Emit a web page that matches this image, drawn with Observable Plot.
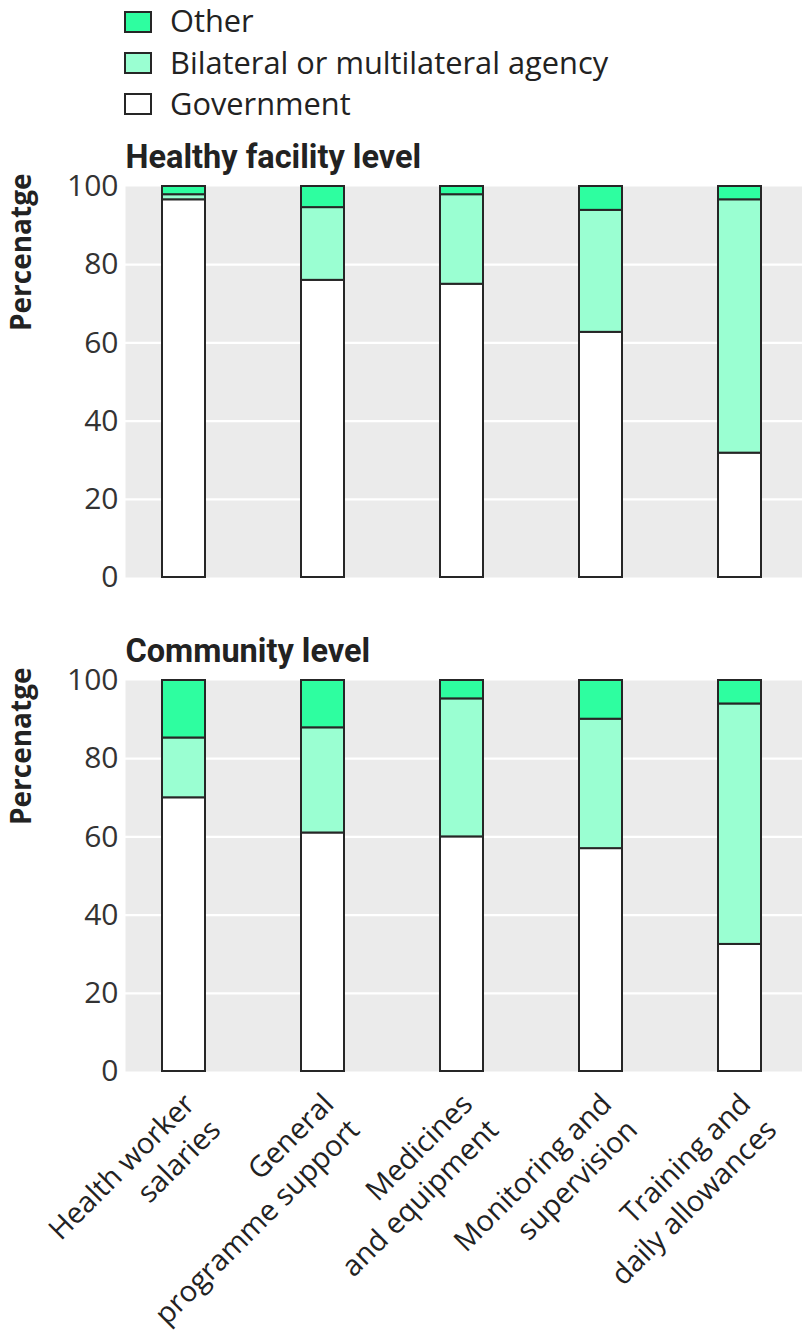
<!DOCTYPE html>
<html><head><meta charset="utf-8">
<script src="https://cdn.jsdelivr.net/npm/d3@7"></script>
<script src="https://cdn.jsdelivr.net/npm/@observablehq/plot@0.6"></script>
<style>
body{margin:0;background:#fff;}
#root{position:relative;width:802px;height:1334px;overflow:hidden;}
#root > *{position:absolute;left:0;}
</style></head><body><div id="root"></div>
<script>
const categories = ["Health worker salaries","General programme support","Medicines and equipment","Monitoring and supervision","Training and daily allowances"];
const categoryLabels = ["Health worker\nsalaries","General\nprogramme support","Medicines\nand equipment","Monitoring and\nsupervision","Training and\ndaily allowances"];
const sources = ["Government","Bilateral or multilateral agency","Other"];
const sourceColors = ["#ffffff","#9affd2","#2efea0"];
const yTicks = [0,20,40,60,80,100];
const gridTicks = [20,40,60,80];
const panelTitles = ["Healthy facility level","Community level"];
const yLabel = "Percenatge";

const facilityGovernment = [96.6, 76.0, 75.0, 62.7, 31.8];
const facilityBilateral  = [1.3, 18.6, 22.9, 31.2, 64.8];
const facilityOther      = [2.1, 5.4, 2.1, 6.1, 3.4];

const communityGovernment = [70.0, 61.0, 60.0, 57.0, 32.5];
const communityBilateral  = [15.3, 26.9, 35.3, 33.1, 61.5];
const communityOther      = [14.7, 12.1, 4.7, 9.9, 6.0];

function rows(gov, bil, oth) {
  return categories.flatMap((c, i) => [
    {category: c, source: sources[0], value: gov[i]},
    {category: c, source: sources[1], value: bil[i]},
    {category: c, source: sources[2], value: oth[i]}
  ]);
}

const root = document.getElementById("root");

// Legend
const legend = d3.create("svg").attr("width", 802).attr("height", 124).style("top", "0px");
const legendOrder = [2, 1, 0];
const rectY = [12, 53, 94];
const textY = [32, 74, 115];
legendOrder.forEach((k, j) => {
  legend.append("rect").attr("x", 125).attr("y", rectY[j]).attr("width", 26).attr("height", 20)
    .attr("fill", sourceColors[k]).attr("stroke", "#262626").attr("stroke-width", 2);
  legend.append("text").attr("x", 170).attr("y", textY[j]).text(sources[k])
    .attr("font-family", "'Open Sans', sans-serif").attr("font-size", 30.8).attr("fill", "#222");
});
root.appendChild(legend.node());

function panel(title, data, showX, height, marginTop, marginBottom) {
  return Plot.plot({
    width: 802, height, marginLeft: 125, marginRight: 0, marginTop, marginBottom,
    style: {fontFamily: "'Open Sans', sans-serif", background: "transparent", overflow: "visible"},
    x: {domain: categories, paddingInner: 0.69, paddingOuter: 0.277, align: 0.47, axis: null},
    y: {domain: [0, 100], axis: null},
    color: {domain: sources, range: sourceColors},
    marks: [
      Plot.frame({fill: "#ebebeb", stroke: null}),
      Plot.gridY(gridTicks, {stroke: "#fff", strokeOpacity: 1, strokeWidth: 2.2}),
      Plot.axisY(yTicks, {tickSize: 0, tickPadding: 7, fontSize: 30, fill: "#333", label: null}),
      Plot.barY(data, {x: "category", y: "value", fill: "source", stroke: "#262626", strokeWidth: 2, order: sources}),
      Plot.text([title], {text: d => d, frameAnchor: "top-left", textAnchor: "start", lineAnchor: "bottom", dy: -19, fontSize: 32.5, fontWeight: 700, fontFamily: "Roboto, sans-serif", fill: "#222"}),
      Plot.text([yLabel], {text: d => d, frameAnchor: "top-left", rotate: -90, textAnchor: "end", lineAnchor: "bottom", dx: -95, dy: -13, fontSize: 28, fontWeight: 700, fill: "#222"}),
      showX ? Plot.text(categories, {x: d => d, text: (d, i) => categoryLabels[i], frameAnchor: "bottom", rotate: -45, textAnchor: "end", lineAnchor: "top", lineHeight: 1.26, dx: -6, dy: 16, fontSize: 29, fill: "#222"}) : null
    ]
  });
}

const p1 = panel(panelTitles[0], rows(facilityGovernment, facilityBilateral, facilityOther), false, 467, 66, 10);
p1.style.top = "120px";
root.appendChild(p1);
const p2 = panel(panelTitles[1], rows(communityGovernment, communityBilateral, communityOther), true, 734, 80, 263);
p2.style.top = "600px";
root.appendChild(p2);
</script></body></html>
